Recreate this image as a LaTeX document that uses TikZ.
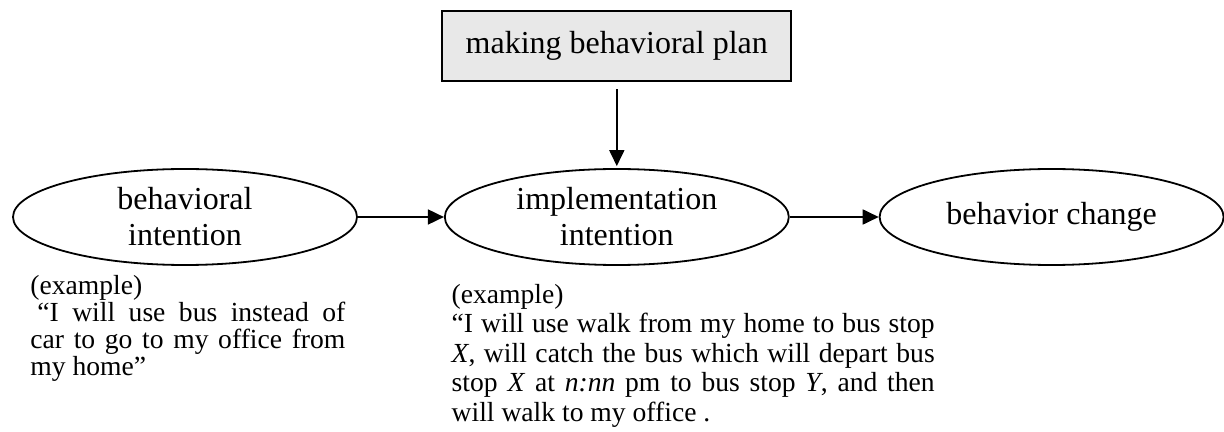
\documentclass[tikz,border=0pt]{standalone}
\usepackage{fontspec}
\setmainfont{Liberation Serif}
\usepackage{xcolor}
\usepackage{tikz}
\usetikzlibrary{arrows.meta,positioning,shapes.geometric}
\definecolor{ink}{HTML}{000000}
\definecolor{planfill}{HTML}{E8E8E8}
\tikzset{
  plan/.style={rectangle,draw=ink,line width=0.9pt,fill=planfill,
    minimum width=174.5pt,minimum height=35pt,inner sep=0pt,
    font=\fontsize{16}{18}\selectfont},
  oval/.style={ellipse,draw=ink,line width=0.9pt,minimum width=172pt,
    minimum height=48pt,inner sep=0pt,align=center,
    font=\fontsize{16}{18}\selectfont},
  note/.style={inner sep=0pt,anchor=north west,align=justify},
  arrow/.style={-{Triangle[length=8pt,width=7.5pt]},line width=0.9pt,draw=ink}
}
\begin{document}
\begin{tikzpicture}[node distance=43pt]
\useasboundingbox (0,0) rectangle (612pt,-216pt);
\node[oval] (bi) at (92.5pt,-108.5pt) {behavioral\\intention};
\node[oval,right=of bi] (ii) {implementation\\intention};
\node[oval,right=44.5pt of ii] (bc) {behavior change};
\node[plan,above=of ii] (mp) {making behavioral plan};
\node[note,text width=157.5pt,font=\fontsize{13.8}{13.5}\selectfont]
  (exbi) at ([xshift=-77.5pt,yshift=-4.5pt]bi.south)
  {(example)\\ \hspace*{3.5pt}“I will use bus instead of\linebreak car to go to my office from\linebreak my home”};
\node[note,text width=241.5pt,font=\fontsize{13.8}{14.75}\selectfont]
  (exii) at ([xshift=-82.75pt,yshift=-9pt]ii.south)
  {(example)\\ “I will use walk from my home to bus stop\linebreak \textit{X}, will catch the bus which will depart bus\linebreak stop \textit{X} at \textit{n:nn} pm to bus stop \textit{Y}, and then\linebreak will walk to my office .};
\draw[arrow] (bi)--(ii); \draw[arrow] (ii)--(bc);
\draw[arrow,shorten <=3.5pt,shorten >=1pt] (mp)--(ii);
\end{tikzpicture}
\end{document}
